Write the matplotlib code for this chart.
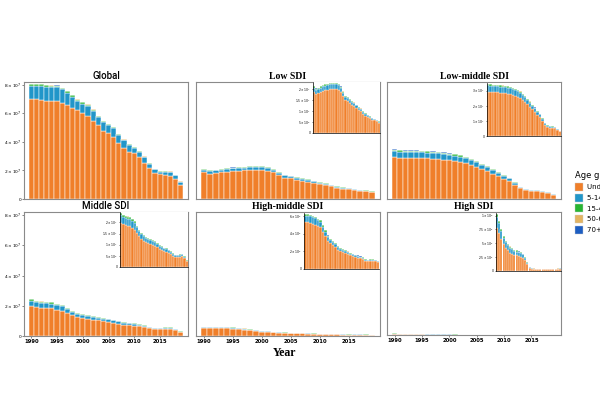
import math
import matplotlib
matplotlib.use("Agg")
import matplotlib.pyplot as plt
from matplotlib.patches import Patch
from matplotlib.ticker import FuncFormatter, FixedLocator

# values in millions
years = list(range(1990, 2020))

global_u5 = [70.0, 70.0, 69.5, 69.0, 68.5, 68.5, 67.5, 66.0, 63.5, 62.5, 60.5, 58.0, 55.0, 52.0, 48.0,
             46.5, 43.5, 39.0, 36.0, 33.0, 32.0, 29.5, 25.5, 22.0, 18.5, 17.2, 16.5, 16.0, 14.0, 10.0]
global_5_14 = [9.3, 9.3, 9.8, 9.8, 10.0, 9.8, 9.3, 8.6, 8.3, 6.3, 6.4, 7.4, 6.9, 5.4, 6.0,
               5.5, 6.0, 6.0, 5.1, 4.6, 3.6, 3.6, 3.7, 2.7, 2.2, 2.0, 2.5, 2.8, 2.5, 1.8]
global_15_49 = [1.0, 1.0, 1.0, 1.0, 1.0, 1.0, 0.9, 0.9, 0.9, 0.9, 0.8, 0.8, 0.8, 0.8, 0.7,
                0.7, 0.7, 0.7, 0.6, 0.6, 0.6, 0.6, 0.5, 0.5, 0.5, 0.5, 0.4, 0.4, 0.4, 0.4]
global_50_69 = [0.15, 0.15, 0.15, 0.15, 0.15, 0.15, 0.14, 0.14, 0.14, 0.13, 0.13, 0.13, 0.12, 0.12, 0.12,
                0.11, 0.11, 0.11, 0.10, 0.10, 0.10, 0.09, 0.09, 0.09, 0.08, 0.08, 0.08, 0.08, 0.07, 0.07]
global_70 = [0.10, 0.10, 0.10, 0.10, 0.10, 0.10, 0.09, 0.09, 0.09, 0.09, 0.08, 0.08, 0.08, 0.08, 0.08,
             0.07, 0.07, 0.07, 0.07, 0.06, 0.06, 0.06, 0.06, 0.05, 0.05, 0.05, 0.05, 0.05, 0.05, 0.04]

low_u5 = [18.7, 17.8, 18.1, 18.7, 19.2, 19.4, 19.7, 20.0, 20.1, 20.1, 20.1, 19.7, 18.6, 16.6, 15.0,
          14.4, 13.6, 12.9, 12.2, 11.3, 10.3, 9.8, 8.8, 7.9, 7.3, 6.7, 6.1, 5.7, 5.3, 4.7]
low_5_14 = [1.9, 1.8, 1.9, 1.9, 2.0, 2.0, 2.0, 2.0, 2.1, 2.1, 2.1, 2.0, 1.9, 1.7, 1.5,
            1.5, 1.4, 1.3, 1.3, 1.2, 1.1, 1.0, 0.9, 0.8, 0.7, 0.7, 0.6, 0.6, 0.5, 0.5]
low_15_49 = [0.5, 0.5, 0.5, 0.5, 0.5, 0.6, 0.6, 0.6, 0.6, 0.6, 0.6, 0.6, 0.5, 0.5, 0.4,
             0.4, 0.4, 0.4, 0.3, 0.3, 0.3, 0.3, 0.3, 0.2, 0.2, 0.2, 0.2, 0.2, 0.2, 0.1]
low_50_69 = [0.06, 0.06, 0.06, 0.06, 0.06, 0.06, 0.06, 0.06, 0.06, 0.06, 0.06, 0.06, 0.05, 0.05, 0.05,
             0.05, 0.04, 0.04, 0.04, 0.04, 0.03, 0.03, 0.03, 0.03, 0.02, 0.02, 0.02, 0.02, 0.02, 0.02]
low_70 = [0.03, 0.03, 0.03, 0.03, 0.03, 0.03, 0.03, 0.03, 0.03, 0.03, 0.03, 0.03, 0.03, 0.03, 0.02,
          0.02, 0.02, 0.02, 0.02, 0.02, 0.02, 0.02, 0.01, 0.01, 0.01, 0.01, 0.01, 0.01, 0.01, 0.01]

lowmid_u5 = [29.4, 29.0, 28.8, 28.8, 28.8, 28.6, 28.4, 28.2, 28.0, 27.6, 27.0, 26.6, 26.0, 25.0, 23.8,
             22.4, 21.0, 19.4, 17.6, 16.0, 14.2, 12.6, 10.0, 7.4, 6.0, 5.6, 5.4, 5.0, 4.2, 3.0]
lowmid_5_14 = [4.2, 4.1, 4.1, 4.1, 4.1, 4.0, 4.0, 4.0, 3.9, 3.9, 3.8, 3.8, 3.7, 3.5, 3.4,
               3.2, 3.0, 2.7, 2.5, 2.3, 2.0, 1.8, 1.4, 1.0, 0.9, 0.8, 0.8, 0.7, 0.6, 0.4]
lowmid_15_49 = [1.0, 1.0, 1.0, 1.0, 1.0, 1.0, 1.0, 1.0, 1.0, 1.0, 1.0, 0.9, 0.9, 0.9, 0.8,
                0.8, 0.7, 0.7, 0.6, 0.5, 0.5, 0.4, 0.4, 0.3, 0.2, 0.2, 0.2, 0.2, 0.1, 0.1]
lowmid_50_69 = [0.08, 0.08, 0.08, 0.08, 0.08, 0.08, 0.08, 0.08, 0.07, 0.07, 0.07, 0.07, 0.07, 0.06, 0.06,
                0.06, 0.05, 0.05, 0.05, 0.04, 0.04, 0.03, 0.03, 0.02, 0.02, 0.02, 0.02, 0.02, 0.01, 0.01]
lowmid_70 = [0.04, 0.04, 0.04, 0.04, 0.04, 0.04, 0.04, 0.04, 0.04, 0.04, 0.04, 0.04, 0.03, 0.03, 0.03,
             0.03, 0.03, 0.03, 0.02, 0.02, 0.02, 0.02, 0.02, 0.01, 0.01, 0.01, 0.01, 0.01, 0.01, 0.01]

mid_u5 = [19.9, 19.1, 18.7, 18.5, 18.2, 17.5, 16.7, 15.2, 13.7, 12.5, 11.7, 11.2, 10.7, 10.3, 9.8,
          9.4, 8.9, 8.2, 7.6, 7.1, 6.8, 6.4, 5.7, 5.0, 4.4, 4.4, 4.7, 4.8, 3.9, 2.5]
mid_5_14 = [3.4, 3.3, 3.2, 3.2, 3.1, 3.0, 2.9, 2.6, 2.3, 2.1, 2.0, 1.9, 1.8, 1.8, 1.7,
            1.6, 1.5, 1.4, 1.3, 1.2, 1.2, 1.1, 1.0, 0.9, 0.8, 0.8, 0.8, 0.8, 0.7, 0.4]
mid_15_49 = [1.0, 0.9, 0.9, 0.9, 0.9, 0.8, 0.8, 0.7, 0.7, 0.6, 0.6, 0.5, 0.5, 0.5, 0.5,
             0.5, 0.4, 0.4, 0.4, 0.3, 0.3, 0.3, 0.3, 0.2, 0.2, 0.2, 0.2, 0.2, 0.2, 0.1]
mid_50_69 = [0.06, 0.06, 0.06, 0.06, 0.05, 0.05, 0.05, 0.05, 0.04, 0.04, 0.04, 0.04, 0.04, 0.03, 0.03,
             0.03, 0.03, 0.03, 0.03, 0.02, 0.02, 0.02, 0.02, 0.02, 0.02, 0.02, 0.02, 0.02, 0.01, 0.01]
mid_70 = [0.03, 0.03, 0.03, 0.03, 0.03, 0.03, 0.03, 0.03, 0.02, 0.02, 0.02, 0.02, 0.02, 0.02, 0.02,
          0.02, 0.02, 0.02, 0.01, 0.01, 0.01, 0.01, 0.01, 0.01, 0.01, 0.01, 0.01, 0.01, 0.01, 0.01]

highmid_u5 = [5.3, 5.3, 5.2, 5.1, 5.0, 4.8, 4.7, 4.2, 3.7, 3.2, 2.9, 2.7, 2.5, 2.2, 2.0,
              1.9, 1.8, 1.67, 1.53, 1.45, 1.36, 1.28, 1.19, 1.1, 0.94, 0.85, 0.94, 0.94, 0.85, 0.77]
highmid_5_14 = [0.74, 0.74, 0.73, 0.72, 0.71, 0.68, 0.66, 0.59, 0.53, 0.46, 0.41, 0.38, 0.35, 0.31, 0.28,
                0.27, 0.25, 0.24, 0.22, 0.2, 0.19, 0.18, 0.17, 0.16, 0.13, 0.12, 0.13, 0.13, 0.12, 0.11]
highmid_15_49 = [0.19, 0.19, 0.18, 0.18, 0.18, 0.17, 0.17, 0.15, 0.13, 0.11, 0.1, 0.1, 0.09, 0.08, 0.07,
                 0.07, 0.06, 0.06, 0.05, 0.05, 0.05, 0.05, 0.04, 0.04, 0.03, 0.03, 0.03, 0.03, 0.03, 0.03]
highmid_50_69 = [0.02, 0.02, 0.02, 0.02, 0.02, 0.02, 0.02, 0.02, 0.01, 0.01, 0.01, 0.01, 0.01, 0.01, 0.01,
                 0.01, 0.01, 0.01, 0.01, 0.01, 0.01, 0.01, 0.01, 0.01, 0.01, 0.01, 0.01, 0.01, 0.01, 0.01]
highmid_70 = [0.01, 0.01, 0.01, 0.01, 0.01, 0.01, 0.01, 0.01, 0.01, 0.01, 0.01, 0.01, 0.01, 0.01, 0.01,
              0.01, 0.01, 0.01, 0.01, 0.01, 0.01, 0.01, 0.01, 0.01, 0.01, 0.01, 0.01, 0.01, 0.01, 0.01]

high_u5 = [0.78, 0.68, 0.57, 0.48, 0.41, 0.37, 0.33, 0.31, 0.29, 0.28, 0.27, 0.26, 0.24, 0.19, 0.12,
           0.053, 0.04, 0.034, 0.03, 0.03, 0.03, 0.03, 0.03, 0.03, 0.03, 0.03, 0.03, 0.032, 0.034, 0.038]
high_5_14 = [0.20, 0.18, 0.15, 0.12, 0.11, 0.10, 0.09, 0.08, 0.07, 0.07, 0.07, 0.07, 0.06, 0.05, 0.03,
             0.014, 0.01, 0.009, 0.008, 0.008, 0.008, 0.008, 0.008, 0.008, 0.008, 0.008, 0.008, 0.008, 0.009, 0.01]
high_15_49 = [0.05, 0.04, 0.03, 0.03, 0.02, 0.02, 0.02, 0.02, 0.02, 0.02, 0.01, 0.01, 0.01, 0.01, 0.01,
              0.003, 0.003, 0.002, 0.002, 0.002, 0.002, 0.002, 0.002, 0.002, 0.002, 0.002, 0.002, 0.002, 0.002, 0.002]
high_50_69 = [0.003, 0.003, 0.002, 0.002, 0.002, 0.002, 0.002, 0.002, 0.002, 0.002, 0.001, 0.001, 0.001, 0.001, 0.001,
              0.001, 0.001, 0.001, 0.001, 0.001, 0.001, 0.001, 0.001, 0.001, 0.001, 0.001, 0.001, 0.001, 0.001, 0.001]
high_70 = [0.002, 0.002, 0.001, 0.001, 0.001, 0.001, 0.001, 0.001, 0.001, 0.001, 0.001, 0.001, 0.001, 0.001, 0.001,
           0.001, 0.001, 0.001, 0.001, 0.001, 0.001, 0.001, 0.001, 0.001, 0.001, 0.001, 0.001, 0.001, 0.001, 0.001]

age_groups = ["Under 5", "5-14 years", "15-49 years", "50-69 years", "70+ years"]
colors = ["#F07F2A", "#2196C9", "#27B532", "#E3B461", "#1D5EC2"]

panels = [
    ("Global", [global_u5, global_5_14, global_15_49, global_50_69, global_70], "sans"),
    ("Low SDI", [low_u5, low_5_14, low_15_49, low_50_69, low_70], "serif"),
    ("Low-middle SDI", [lowmid_u5, lowmid_5_14, lowmid_15_49, lowmid_50_69, lowmid_70], "serif"),
    ("Middle SDI", [mid_u5, mid_5_14, mid_15_49, mid_50_69, mid_70], "sans"),
    ("High-middle SDI", [highmid_u5, highmid_5_14, highmid_15_49, highmid_50_69, highmid_70], "serif"),
    ("High SDI", [high_u5, high_5_14, high_15_49, high_50_69, high_70], "serif"),
]

# panel placement in pixels of the 600x400 picture: (left, top, right, bottom)
W, H = 600, 400
main_px = [(24, 82, 188, 199), (196, 82, 380, 199), (387, 82, 561, 199),
           (24, 212, 188, 336), (196, 212, 380, 336), (387, 212, 561, 335)]
inset_px = [None, (313, 82, 380, 133), (487, 83, 561, 136),
            (120, 212, 188, 267), (304, 213, 379, 269), (496, 213, 561, 271)]
inset_ticks = [None, [0, 5e6, 1e7, 1.5e7, 2e7], [0, 1e7, 2e7, 3e7],
               [0, 5e6, 1e7, 1.5e7, 2e7], [0, 2e6, 4e6, 6e6], [0, 2.5e5, 5e5, 7.5e5, 1e6]]


def rect(px):
    x0, y0, x1, y1 = px
    return [x0 / W, 1 - y1 / H, (x1 - x0) / W, (y1 - y0) / H]


def sci(v, pos=None):
    if v == 0:
        return "0"
    e = int(math.floor(math.log10(v) + 1e-9))
    m = v / 10 ** e
    ms = f"{m:.1f}".rstrip("0").rstrip(".")
    return rf"${ms}\times10^{{{e}}}$"


def stack(ax, series, lw):
    bottom = [0.0] * len(years)
    for vals, c in zip(series, colors):
        v = [x * 1e6 for x in vals]
        ax.bar(years, v, width=1.0, bottom=bottom, color=c, edgecolor="white", linewidth=lw)
        bottom = [b + x for b, x in zip(bottom, v)]
    return max(bottom)


fig = plt.figure(figsize=(6, 4), dpi=100)
serif = ["Liberation Serif", "DejaVu Serif"]
sans = ["Roboto", "DejaVu Sans"]

for i, (title, series, font) in enumerate(panels):
    ax = fig.add_axes(rect(main_px[i]))
    stack(ax, series, 0.35)
    ax.set_xlim(1988.6, 2020.4)
    ax.set_ylim(0, 8.2e7)
    for s in ax.spines.values():
        s.set_color("#8a8a8a")
        s.set_linewidth(0.8)
    ax.set_title(title, fontsize=7, pad=2, family=serif if font == "serif" else sans,
                 fontweight="bold" if font == "serif" else "medium")
    ax.yaxis.set_major_locator(FixedLocator([0, 2e7, 4e7, 6e7, 8e7]))
    ax.yaxis.set_major_formatter(FuncFormatter(sci))
    ax.set_xticks([1990, 1995, 2000, 2005, 2010, 2015])
    ax.tick_params(length=1.5, width=0.5, labelsize=3.8, pad=1, color="#555555")
    ax.tick_params(axis="y", labelsize=3.2, pad=0.6)
    if i % 3 != 0:
        ax.tick_params(axis="y", left=False, labelleft=False)
    if i < 3:
        ax.tick_params(axis="x", bottom=False, labelbottom=False)
    else:
        for lab in ax.get_xticklabels():
            lab.set_fontweight("bold")

    if inset_px[i] is not None:
        ins = fig.add_axes(rect(inset_px[i]))
        top = stack(ins, series, 0.25)
        ins.set_xlim(1989.5, 2019.5)
        ins.set_ylim(0, top * 1.01)
        ins.set_facecolor("white")
        ins.spines["top"].set_visible(False)
        ins.spines["right"].set_visible(False)
        ins.spines["left"].set_linewidth(0.5)
        ins.spines["bottom"].set_linewidth(0.5)
        ins.yaxis.set_major_locator(FixedLocator(inset_ticks[i]))
        ins.yaxis.set_major_formatter(FuncFormatter(sci))
        ins.set_xticks([])
        ins.tick_params(axis="y", length=1, width=0.4, labelsize=2.2, pad=0.8)

fig.text(285 / W, 1 - 353 / H, "Year", ha="center", va="center", fontsize=8.5,
         family=serif, fontweight="bold")

# legend sits against the right edge, partly cut off as in the reference
handles = [Patch(facecolor=c, edgecolor="#cccccc", linewidth=0.3) for c in colors]
fig.legend(handles, age_groups, title="Age group", loc="upper left",
           bbox_to_anchor=(572 / W, 1 - 168 / H), frameon=False, fontsize=5,
           title_fontsize=6, handlelength=1.1, handleheight=1.4, handletextpad=0.5,
           labelspacing=0.38, borderpad=0, alignment="left")

fig.savefig("out.png", dpi=100)
